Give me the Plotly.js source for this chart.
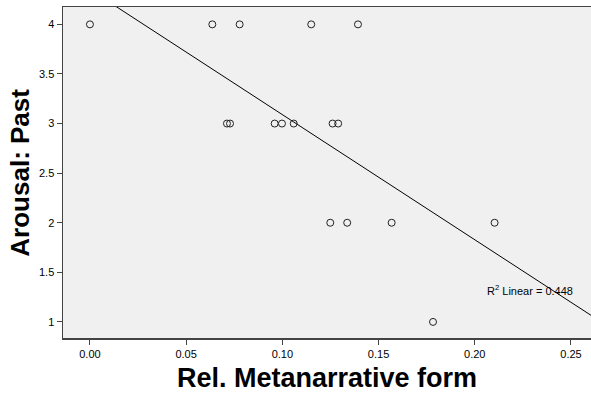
<!DOCTYPE html>
<html><head><meta charset="utf-8">
<script src="https://cdn.plot.ly/plotly-3.0.1.min.js"></script>
<style>html,body{margin:0;padding:0;background:#fff}#chart{width:591px;height:395px}</style>
</head><body><div id="chart"></div>
<script>
const metanarrative = [0.000, 0.0636, 0.0778, 0.1150, 0.1393,
  0.0712, 0.0728, 0.0960, 0.0998, 0.1059, 0.1261, 0.1290,
  0.1249, 0.1337, 0.1568, 0.2103,
  0.1783];
const arousalPast = [4, 4, 4, 4, 4,
  3, 3, 3, 3, 3, 3, 3,
  2, 2, 2, 2,
  1];
const xTicks = [0, 0.05, 0.10, 0.15, 0.20, 0.25];
const yTicks = [1, 1.5, 2, 2.5, 3, 3.5, 4];
const xRange = [-0.014, 0.2604];
const yRange = [0.838, 4.175];

// least squares fit
const n = metanarrative.length;
const mx = metanarrative.reduce((a,b)=>a+b,0)/n;
const my = arousalPast.reduce((a,b)=>a+b,0)/n;
let sxy=0, sxx=0;
for (let i=0;i<n;i++){ sxy+=(metanarrative[i]-mx)*(arousalPast[i]-my); sxx+=(metanarrative[i]-mx)**2; }
const slope = sxy/sxx, icpt = my - slope*mx;
const fitX = [xRange[0], xRange[1]];
const fitY = fitX.map(x=>icpt+slope*x);

const titleFont = {family:'Arial, Liberation Sans, sans-serif', weight:'bold', color:'#000'};
const data = [
 {x: fitX, y: fitY, mode:'lines', line:{color:'#000', width:1}, hoverinfo:'skip'},
 {x: metanarrative, y: arousalPast, mode:'markers', type:'scatter',
  marker:{symbol:'circle-open', size:7, color:'#222', line:{width:1, color:'#222'}}}
];
const layout = {
 width:591, height:395, showlegend:false,
 margin:{l:63, r:0, t:7, b:57},
 paper_bgcolor:'#fff', plot_bgcolor:'#f0f0f0',
 font:{family:'Arial, Liberation Sans, sans-serif', size:11, color:'#000'},
 xaxis:{range:xRange, tickvals:xTicks, tickformat:'.2f', showgrid:false, zeroline:false,
   showline:true, linecolor:'#444', linewidth:1.5, mirror:true, ticks:'outside', ticklen:5, tickcolor:'#444'},
 yaxis:{range:yRange, tickvals:yTicks, showgrid:false, zeroline:false,
   showline:true, linecolor:'#444', linewidth:1.5, mirror:true, ticks:'outside', ticklen:5, tickcolor:'#444'},
 annotations:[
  {x:0.2053, y:1.32, xref:'x', yref:'y', xanchor:'left', yanchor:'middle', showarrow:false,
   text:'R<sup>2</sup> Linear = 0.448', font:{size:11, color:'#000'}},
  {x:0.5, y:-0.172, xref:'paper', yref:'paper', xanchor:'center', yanchor:'bottom', showarrow:false,
   text:'Rel. Metanarrative form', font:Object.assign({size:27}, titleFont)},
  {x:-0.083, y:0.5, xref:'paper', yref:'paper', xanchor:'center', yanchor:'middle', showarrow:false, textangle:-90,
   text:'Arousal: Past', font:Object.assign({size:26}, titleFont)}
 ]
};
Plotly.newPlot('chart', data, layout, {displayModeBar:false, staticPlot:true});
</script></body></html>
